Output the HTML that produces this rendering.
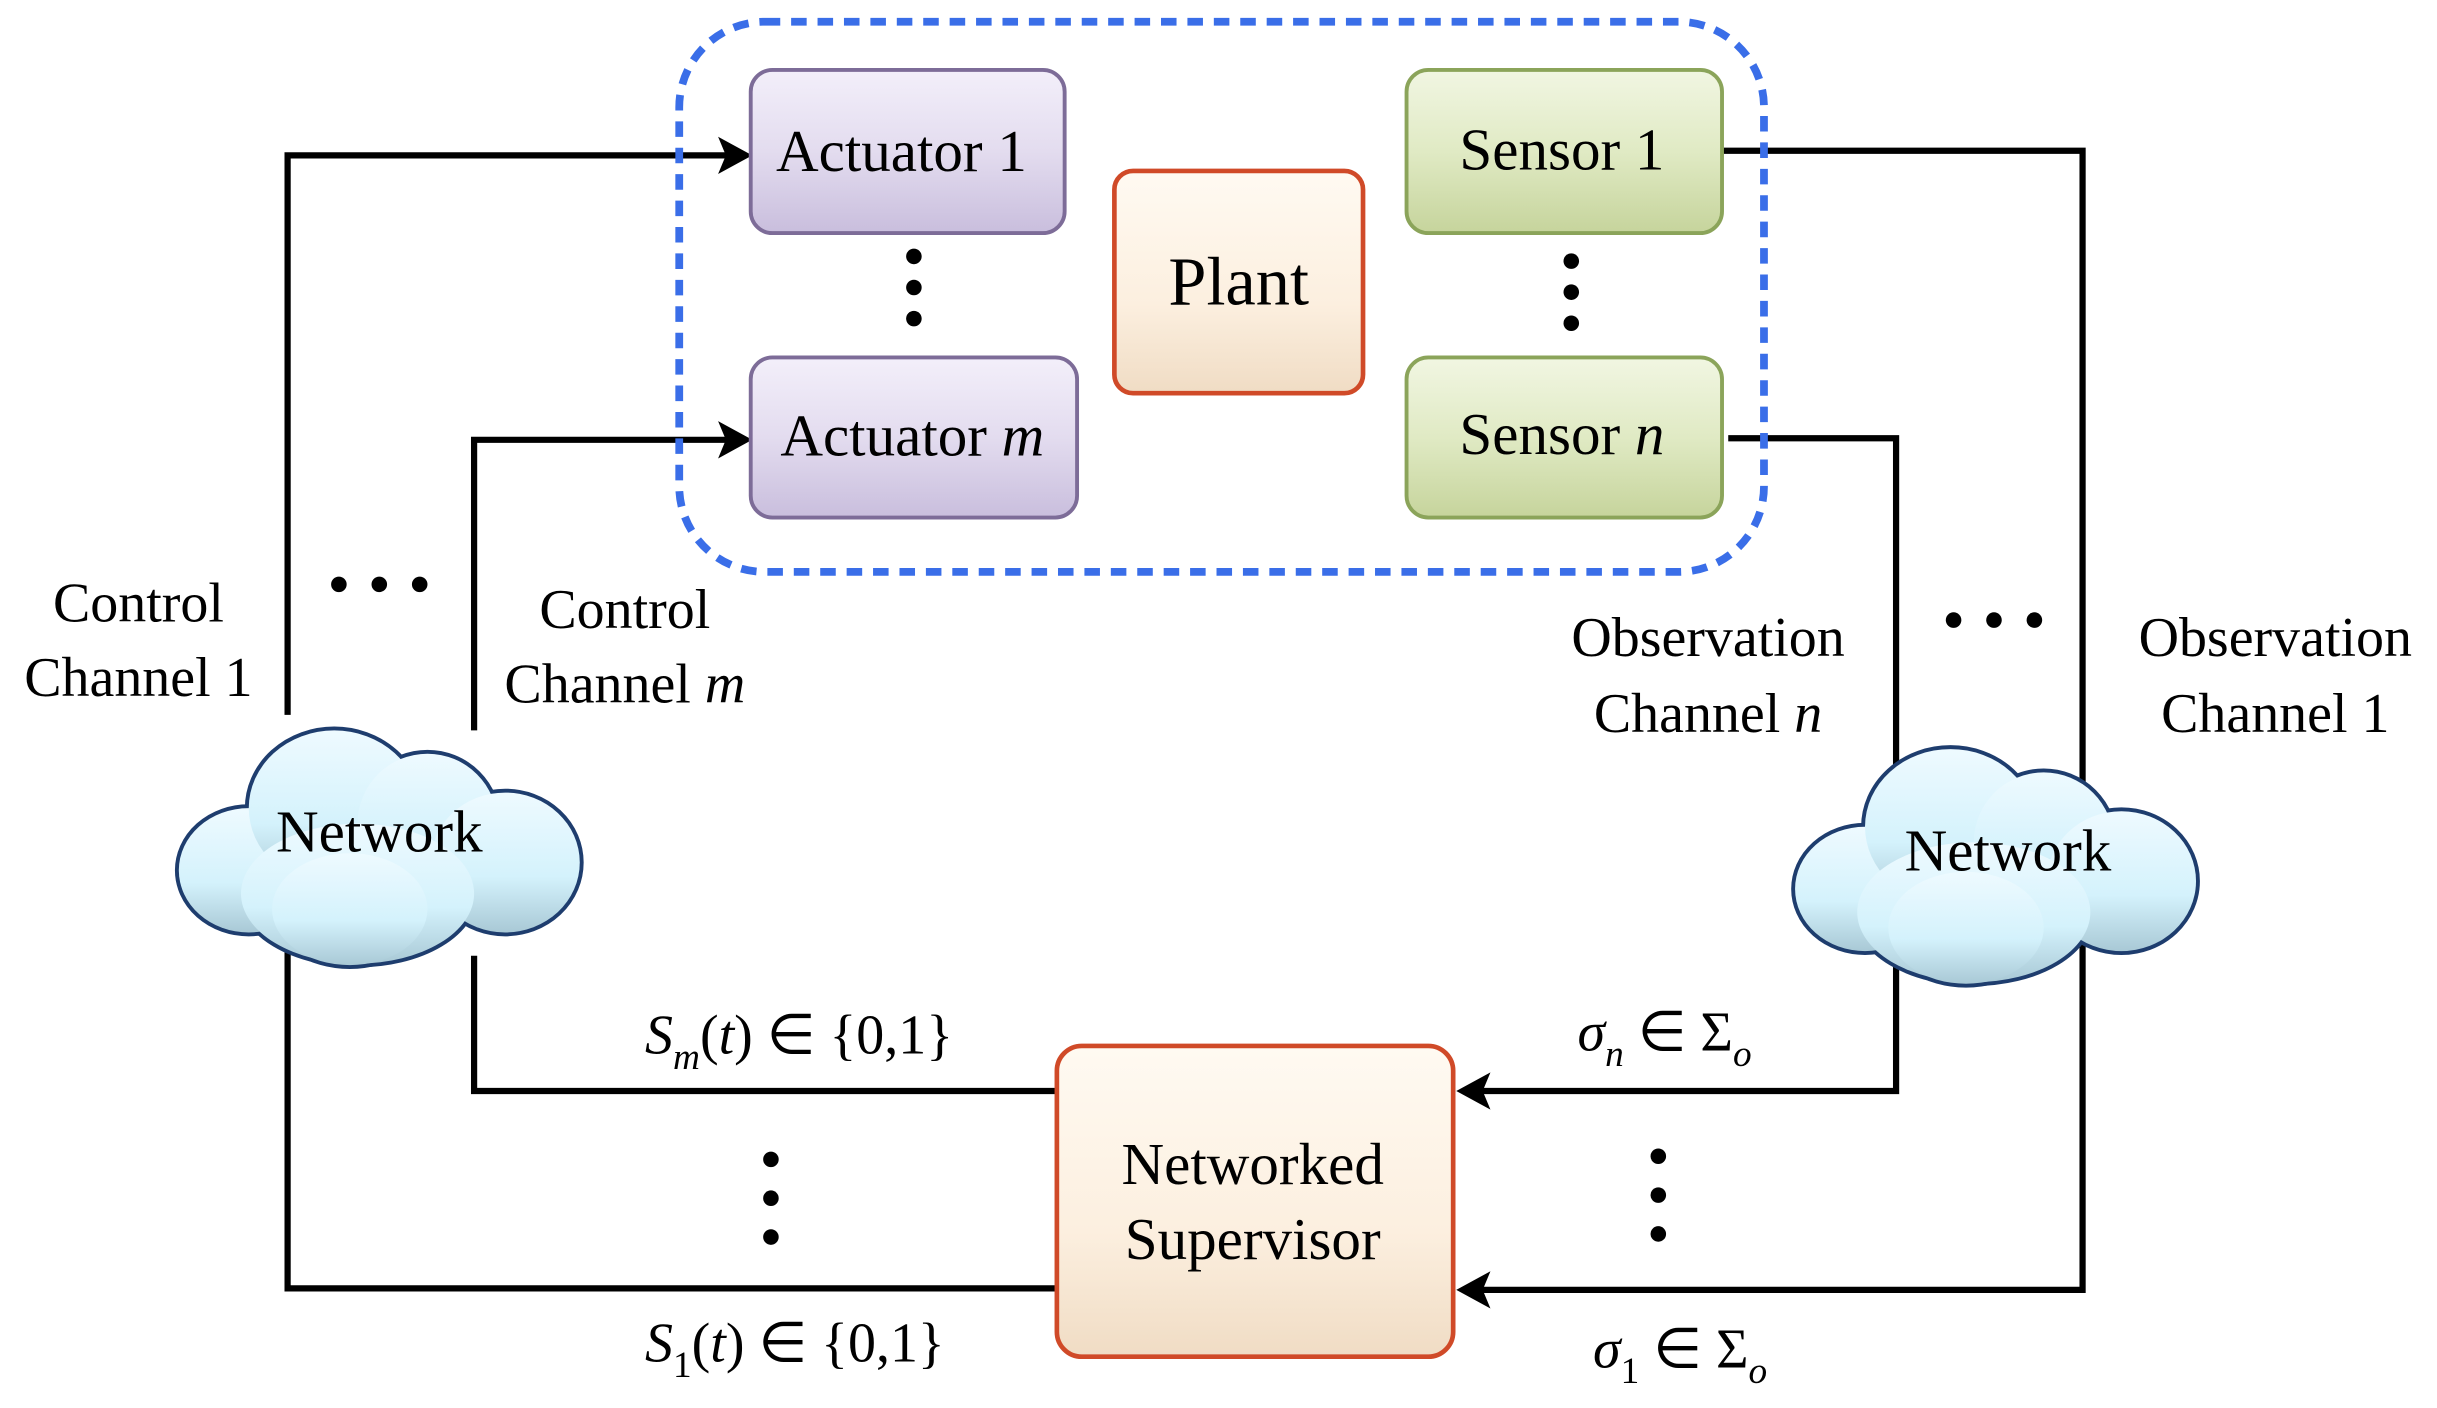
<!DOCTYPE html>
<html><head><meta charset="utf-8"><style>
html,body{margin:0;padding:0;background:#fff;}
svg{display:block;}
text{font-family:"Liberation Serif",serif;fill:#000;}
</style></head><body>
<svg width="2437" height="1408" viewBox="0 0 1568 906" xmlns="http://www.w3.org/2000/svg">
<defs>
<linearGradient id="gA" x1="0" y1="0" x2="0" y2="1"><stop offset="0" stop-color="#f3effa"/><stop offset="0.5" stop-color="#e3dcef"/><stop offset="1" stop-color="#c9bedd"/></linearGradient>
<linearGradient id="gS" x1="0" y1="0" x2="0" y2="1"><stop offset="0" stop-color="#f1f6e2"/><stop offset="0.5" stop-color="#e0eac4"/><stop offset="1" stop-color="#c6d49c"/></linearGradient>
<linearGradient id="gP" x1="0" y1="0" x2="0" y2="1"><stop offset="0" stop-color="#fffaf2"/><stop offset="0.6" stop-color="#fcefdf"/><stop offset="1" stop-color="#f0dcc4"/></linearGradient>
<linearGradient id="gC" x1="0" y1="0" x2="0" y2="1"><stop offset="0" stop-color="#eefaff"/><stop offset="0.6" stop-color="#d4f2fc"/><stop offset="1" stop-color="#a9c9d6"/></linearGradient>
<marker id="ar" markerWidth="10" markerHeight="10" refX="9" refY="5" orient="auto" markerUnits="userSpaceOnUse" viewBox="0 0 10 10"><path d="M0,0 L10,5 L0,10 L3,5 z" fill="#000"/></marker>
</defs>
<g fill="none" stroke="#000" stroke-width="4">
<polyline points="185,460 185,100 470,100"/>
<path d="M462,88 L484,100 L462,112 L467,100 z" fill="#000" stroke="none"/>
<polyline points="305,470 305,283 470,283"/>
<path d="M462,271 L484,283 L462,295 L467,283 z" fill="#000" stroke="none"/>
<polyline points="185,610 185,829 680,829"/>
<polyline points="305,615 305,702 680,702"/>
<polyline points="1108,97 1340,97 1340,830 950,830"/>
<path d="M959,818 L937,830 L959,842 L954,830 z" fill="#000" stroke="none"/>
<polyline points="1112,282 1220,282 1220,702 950,702"/>
<path d="M959,690 L937,702 L959,714 L954,702 z" fill="#000" stroke="none"/>
</g>
<rect x="437" y="14" width="698" height="354" rx="55" fill="none" stroke="#3a6ee8" stroke-width="5" stroke-dasharray="10,7"/>
<rect x="483" y="45" width="202" height="105" rx="14" fill="url(#gA)" stroke="#7d6c98" stroke-width="2.5"/>
<rect x="483" y="230" width="210" height="103" rx="14" fill="url(#gA)" stroke="#7d6c98" stroke-width="2.5"/>
<rect x="717" y="110" width="160" height="143" rx="12" fill="url(#gP)" stroke="#d04a28" stroke-width="3"/>
<rect x="905" y="45" width="203" height="105" rx="14" fill="url(#gS)" stroke="#8ba45a" stroke-width="2.5"/>
<rect x="905" y="230" width="203" height="103" rx="14" fill="url(#gS)" stroke="#8ba45a" stroke-width="2.5"/>
<rect x="680" y="673" width="255" height="200" rx="16" fill="url(#gP)" stroke="#d04a28" stroke-width="3"/>
<text x="580" y="110" font-size="38" text-anchor="middle">Actuator 1</text>
<text x="587" y="293" font-size="38" text-anchor="middle">Actuator <tspan font-style="italic">m</tspan></text>
<text x="797" y="196" font-size="44" text-anchor="middle">Plant</text>
<text x="1005" y="109" font-size="38" text-anchor="middle">Sensor 1</text>
<text x="1005" y="292" font-size="38" text-anchor="middle">Sensor <tspan font-style="italic">n</tspan></text>
<text x="806" y="762" font-size="38" text-anchor="middle">Networked</text>
<text x="806" y="810" font-size="38" text-anchor="middle">Supervisor</text>
<g fill="#000">
<circle cx="588" cy="165" r="5"/><circle cx="588" cy="185" r="5"/><circle cx="588" cy="205" r="5"/>
<circle cx="1011" cy="168" r="5"/><circle cx="1011" cy="188" r="5"/><circle cx="1011" cy="208" r="5"/>
<circle cx="218" cy="376" r="5"/><circle cx="244" cy="376" r="5"/><circle cx="270" cy="376" r="5"/>
<circle cx="1257" cy="399" r="5"/><circle cx="1283" cy="399" r="5"/><circle cx="1309" cy="399" r="5"/>
<circle cx="496" cy="746" r="5"/><circle cx="496" cy="771" r="5"/><circle cx="496" cy="796" r="5"/>
<circle cx="1067" cy="744" r="5"/><circle cx="1067" cy="769" r="5"/><circle cx="1067" cy="794" r="5"/>
</g>
<g id="cl">
<g stroke="#1e3d6e" stroke-width="5" fill="#1e3d6e">
<ellipse cx="160" cy="560" rx="45" ry="40"/><ellipse cx="215" cy="520" rx="55" ry="50"/><ellipse cx="275" cy="530" rx="45" ry="45"/>
<ellipse cx="325" cy="555" rx="48" ry="45"/><ellipse cx="230" cy="575" rx="75" ry="45"/><ellipse cx="225" cy="585" rx="50" ry="36"/>
</g>
<g fill="url(#gC)">
<ellipse cx="160" cy="560" rx="45" ry="40"/><ellipse cx="215" cy="520" rx="55" ry="50"/><ellipse cx="275" cy="530" rx="45" ry="45"/>
<ellipse cx="325" cy="555" rx="48" ry="45"/><ellipse cx="230" cy="575" rx="75" ry="45"/><ellipse cx="225" cy="585" rx="50" ry="36"/>
</g>
</g>
<use href="#cl" transform="translate(1040,12)"/>
<text x="244" y="548" font-size="38" text-anchor="middle">Network</text>
<text x="1292" y="560" font-size="38" text-anchor="middle">Network</text>
<g font-size="36" text-anchor="middle">
<text x="89" y="400">Control</text><text x="89" y="448">Channel 1</text>
<text x="402" y="404">Control</text><text x="402" y="452">Channel <tspan font-style="italic">m</tspan></text>
<text x="1099" y="422">Observation</text><text x="1099" y="471">Channel <tspan font-style="italic">n</tspan></text>
<text x="1464" y="422">Observation</text><text x="1464" y="471">Channel 1</text>
</g>
<g font-size="36">
<text x="415" y="678"><tspan font-style="italic">S</tspan><tspan font-size="24" font-style="italic" dy="10">m</tspan><tspan dy="-10">(</tspan><tspan font-style="italic">t</tspan>) ∈ {0,1}</text>
<text x="415" y="876"><tspan font-style="italic">S</tspan><tspan font-size="24" dy="10">1</tspan><tspan dy="-10">(</tspan><tspan font-style="italic">t</tspan>) ∈ {0,1}</text>
<text x="1015" y="676"><tspan font-style="italic">σ</tspan><tspan font-size="24" font-style="italic" dy="10">n</tspan><tspan dy="-10"> ∈ Σ</tspan><tspan font-size="24" font-style="italic" dy="10">o</tspan></text>
<text x="1025" y="880"><tspan font-style="italic">σ</tspan><tspan font-size="24" dy="10">1</tspan><tspan dy="-10"> ∈ Σ</tspan><tspan font-size="24" font-style="italic" dy="10">o</tspan></text>
</g>
</svg>
</body></html>
